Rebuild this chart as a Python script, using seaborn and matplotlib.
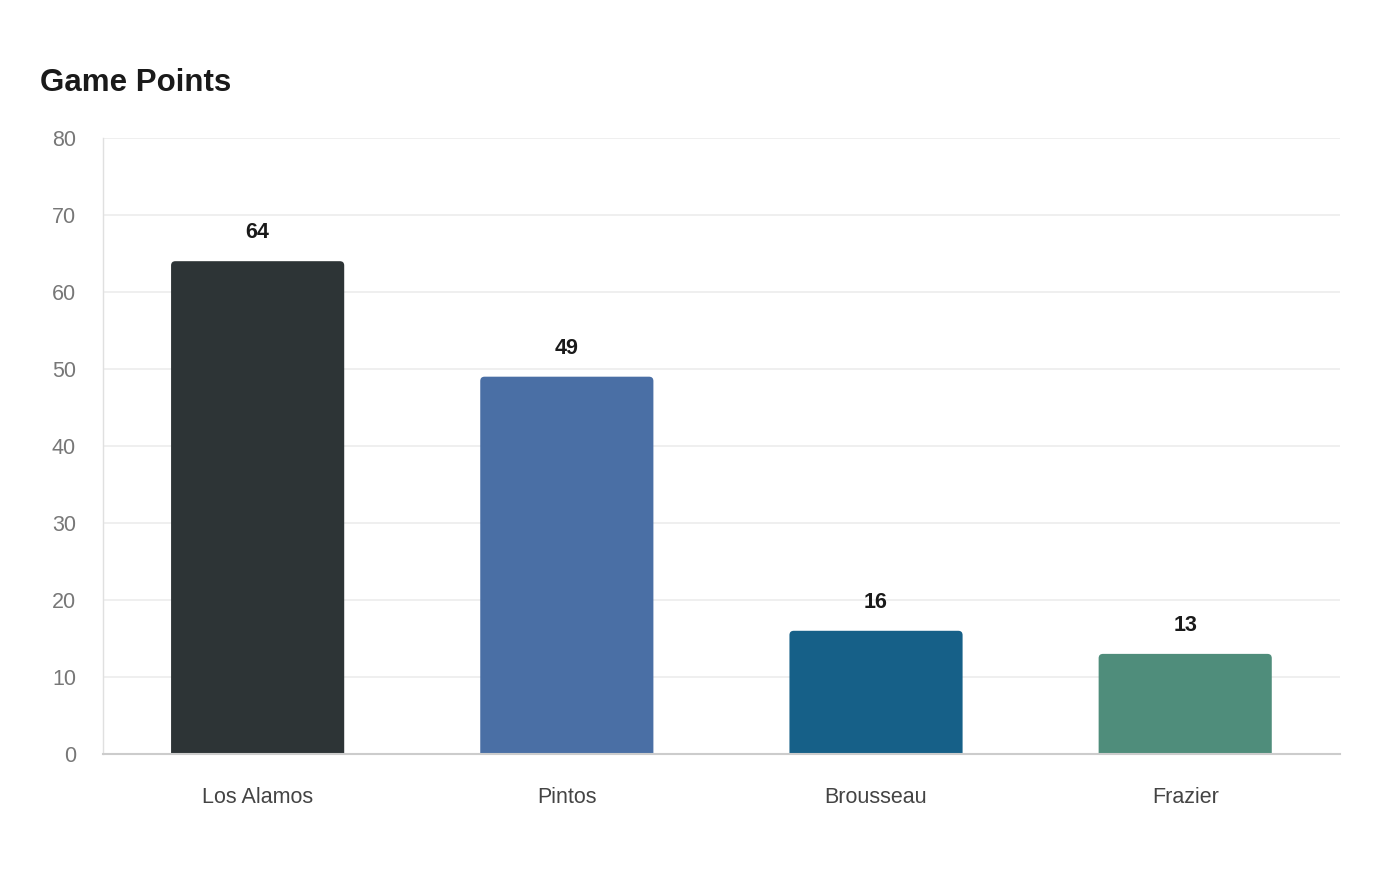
import matplotlib
matplotlib.use("Agg")
import matplotlib.pyplot as plt
from matplotlib.patches import FancyBboxPatch
import seaborn as sns
import pandas as pd

teams = ["Los Alamos", "Pintos", "Brousseau", "Frazier"]
points = [64, 49, 16, 13]
colors = ["#2d3436", "#4a6fa5", "#166088", "#4f8d7b"]
y_ticks = [0, 10, 20, 30, 40, 50, 60, 70, 80]

df = pd.DataFrame({"team": teams, "points": points})

sns.set_style("white")
plt.rcParams["font.family"] = ["Liberation Sans", "DejaVu Sans"]

fig = plt.figure(figsize=(14, 8.8), dpi=100)
ax = fig.add_axes([0.0736, 0.1432, 0.8834, 0.70])

sns.barplot(data=df, x="team", y="points", hue="team", palette=colors,
            width=0.56, legend=False, ax=ax, saturation=1)

# rounded tops on the bars (bottom corners pushed below y=0 and clipped)
for p in list(ax.patches):
    x, w, h = p.get_x(), p.get_width(), p.get_height()
    c = p.get_facecolor()
    p.set_visible(False)
    bar = FancyBboxPatch((x, -1.5), w, h + 1.5,
                         boxstyle="round,pad=0,rounding_size=0.014",
                         mutation_aspect=40, fc=c, ec="none", zorder=3)
    ax.add_patch(bar)
    bar.set_clip_path(ax.patch)
    ax.text(x + w / 2, h + 3.7, f"{int(h)}", ha="center", va="center",
            fontsize=15.5, fontweight="bold", color="#1a1a1a")

ax.set_xlim(-0.5, 3.5)
ax.set_ylim(0, 80)
ax.set_yticks(y_ticks)
ax.yaxis.grid(True, color="#ececec", linewidth=1.2, zorder=0)
ax.set_axisbelow(True)
ax.set_xlabel("")
ax.set_ylabel("")

for s in ["top", "right"]:
    ax.spines[s].set_visible(False)
ax.spines["left"].set_color("#e0e0e0")
ax.spines["left"].set_linewidth(1)
ax.spines["bottom"].set_color("#cccccc")
ax.spines["bottom"].set_linewidth(1.5)
ax.spines["bottom"].set_zorder(4)

ax.tick_params(axis="y", labelsize=15.5, labelcolor="#777777", length=10.8,
               width=1.2, color="#ececec", pad=8.6)
ax.tick_params(axis="x", labelsize=15.5, labelcolor="#444444", length=0, pad=23.5)

fig.text(40 / 1400, 1 - 83 / 880, "Game Points", ha="left", va="center",
         fontsize=22.5, fontweight="bold", color="#1a1a1a")

fig.savefig("out.png", dpi=100)
